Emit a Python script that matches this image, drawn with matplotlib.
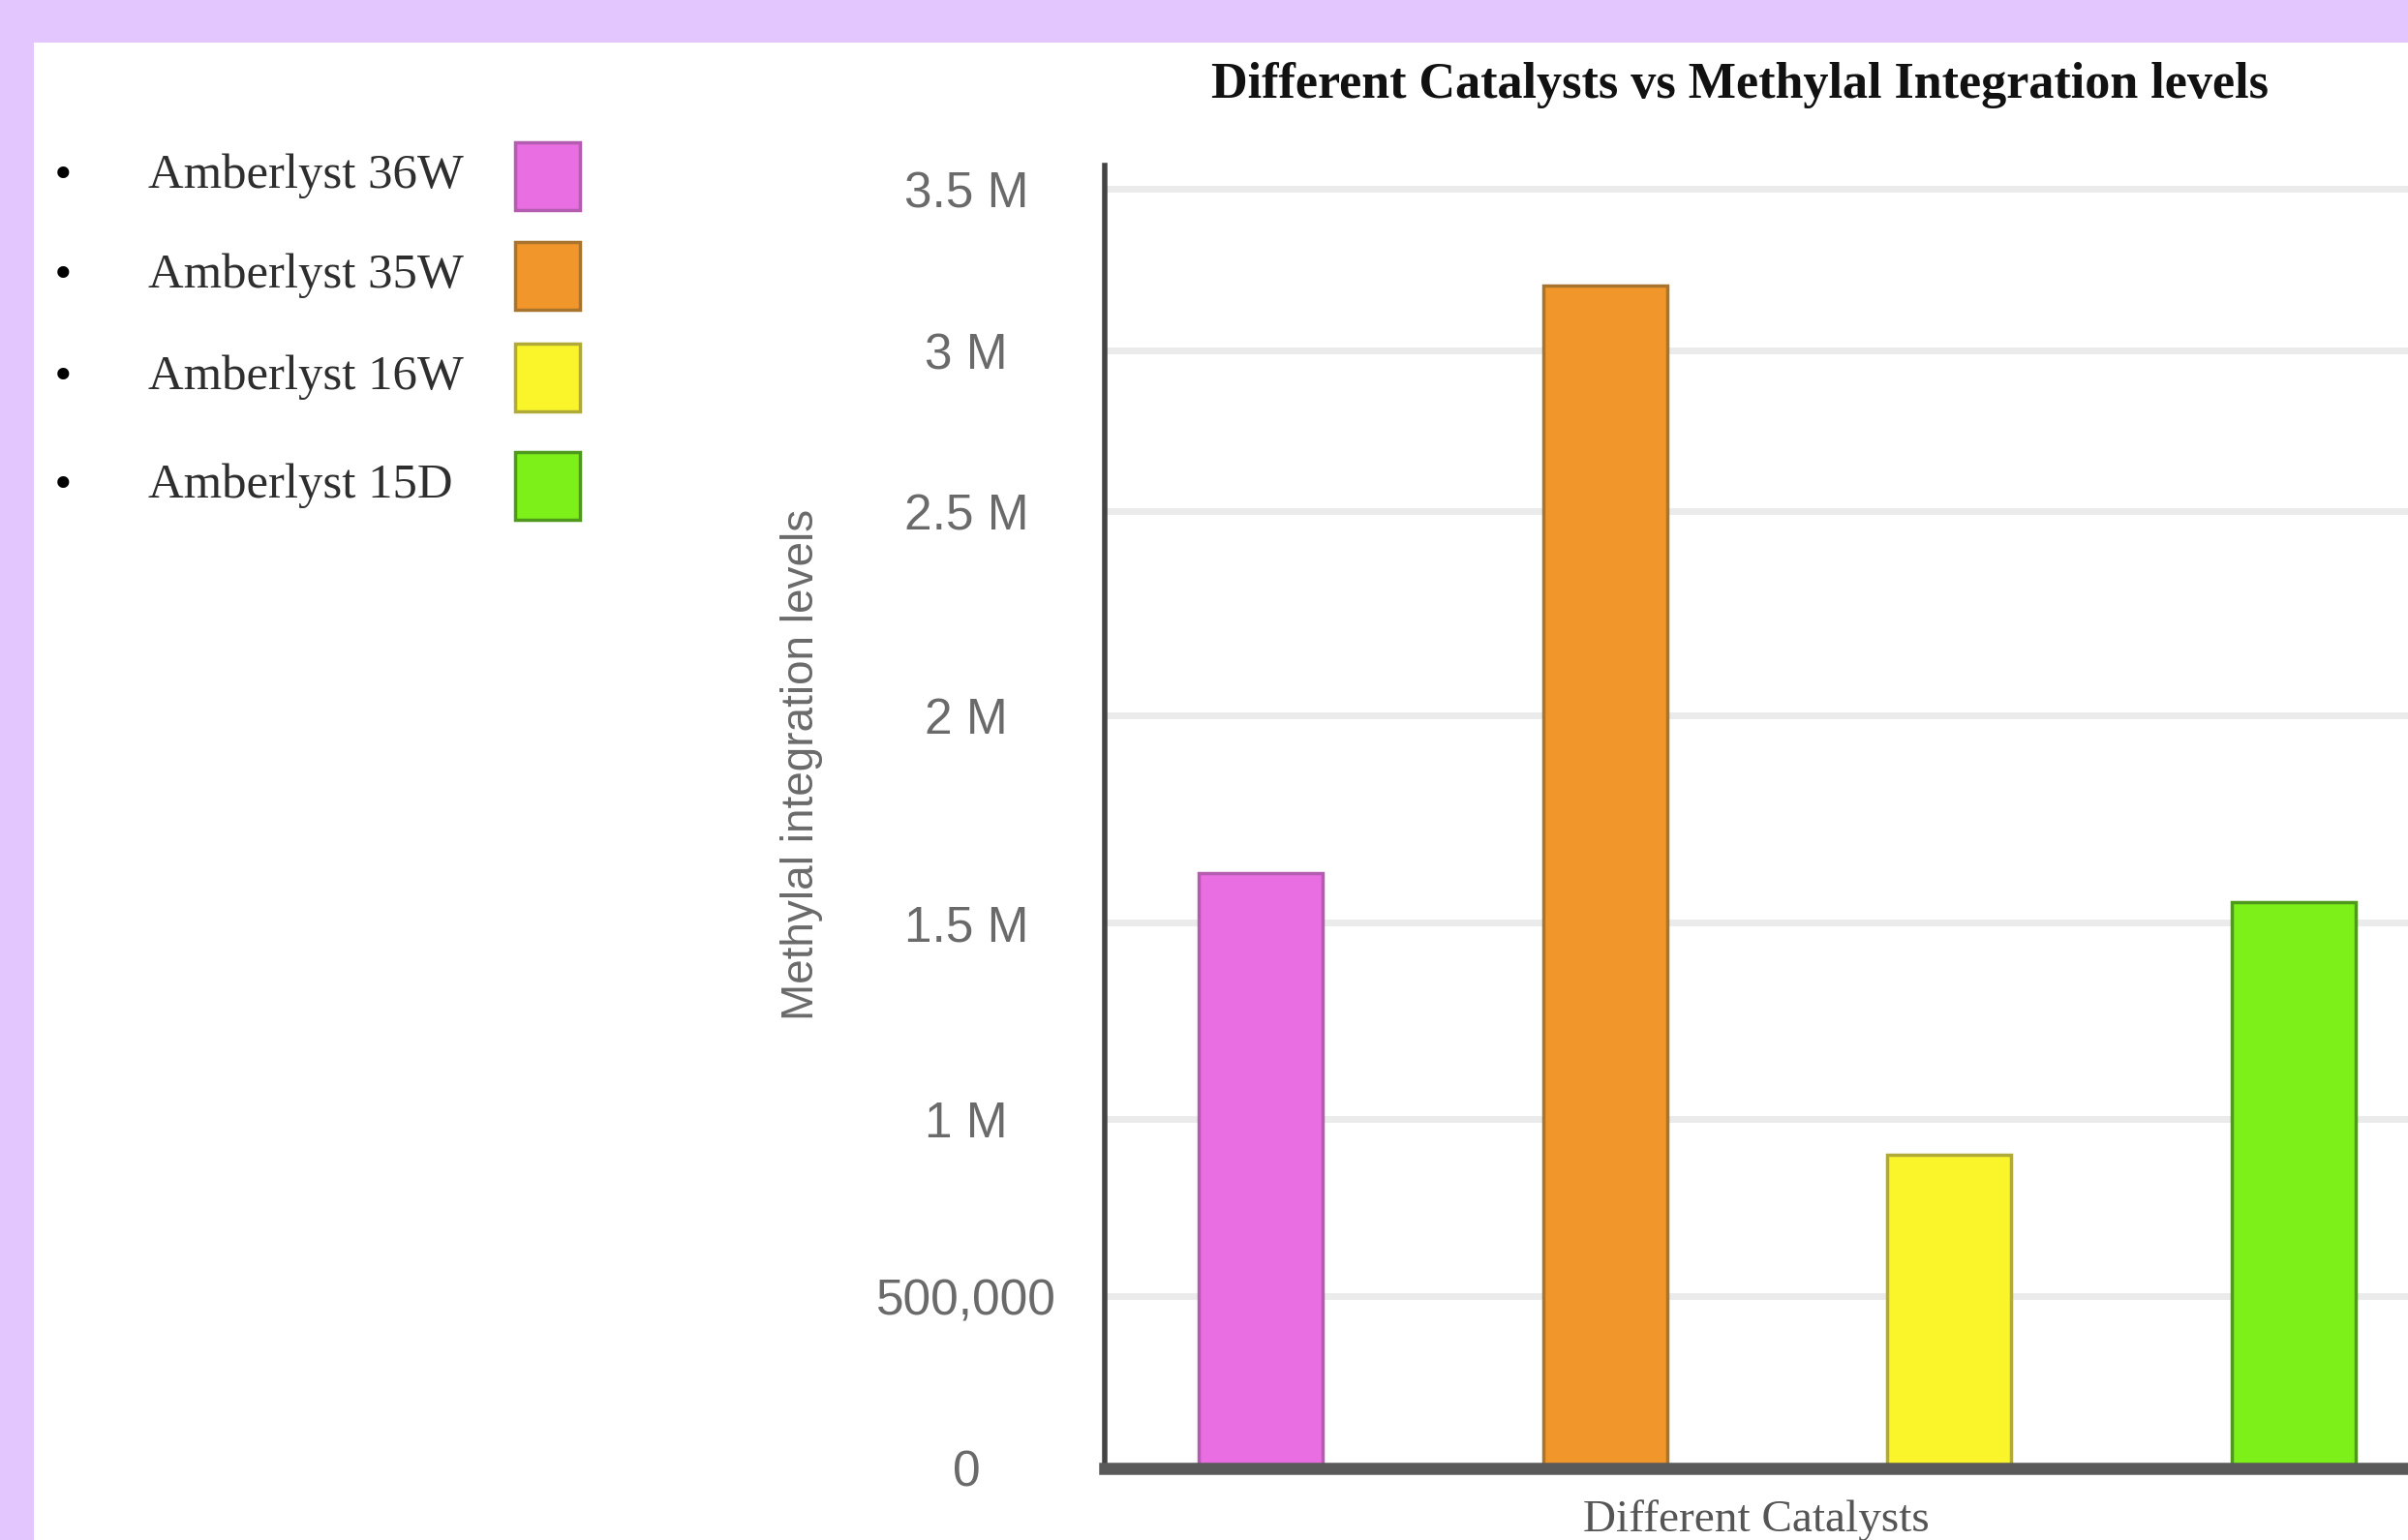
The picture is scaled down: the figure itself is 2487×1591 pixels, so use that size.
import numpy as np
import matplotlib
matplotlib.use('Agg')
import matplotlib.pyplot as plt
from matplotlib.patches import Rectangle

# Data
catalysts = ['Amberlyst 36W', 'Amberlyst 35W', 'Amberlyst 16W', 'Amberlyst 15D']
levels = [1.62e6, 3.20e6, 0.90e6, 1.55e6]
fill_colors = ['#e86ee1', '#f0962a', '#faf52a', '#7df019']
edge_colors = ['#b45cb0', '#a8742e', '#b0aa38', '#4f9a1c']

ytick_vals = [0, 0.5e6, 1e6, 1.5e6, 2e6, 2.5e6, 3e6, 3.5e6]
ytick_labels = ['0', '500,000', '1 M', '1.5 M', '2 M', '2.5 M', '3 M', '3.5 M']

# the picture's value axis is unevenly stretched; follow its gridline spacing
scale_vals = [0, 0.5e6, 1e6, 1.5e6, 2e6, 2.5e6, 3e6, 3.5e6, 4e6]
scale_pos = [0, 178, 361, 564, 778, 989, 1155, 1322, 1489]


def fwd(v):
    return np.interp(v, scale_vals, scale_pos)


def inv(p):
    return np.interp(p, scale_pos, scale_vals)


W, H = 2487, 1591
fig = plt.figure(figsize=(W / 100, H / 100), dpi=100)
fig.patch.set_facecolor('#e2c6fd')

# white panel (behind the axes)
fig.patches.append(Rectangle((35 / W, 0), 1, (H - 44) / H, transform=fig.transFigure,
                             facecolor='white', edgecolor='none', zorder=-1))

ax = fig.add_axes([1141 / W, (H - 1517) / H, 1 - 1141 / W, (1517 - 171) / H])
ax.set_facecolor('none')
ax.set_yscale('function', functions=(fwd, inv))

x = np.arange(len(catalysts))
ax.bar(x, levels, width=0.36, color=fill_colors, edgecolor=edge_colors, linewidth=2.5, zorder=2)

ax.set_xlim(-0.453, 3.332)
ax.set_ylim(0, 3.572e6)
ax.set_yticks(ytick_vals)
ax.set_yticklabels(ytick_labels, fontfamily='Liberation Sans', fontsize=37, color='#6a6a6a')
for lbl in ax.get_yticklabels():
    lbl.set_ha('center')
ax.tick_params(axis='y', length=0, pad=103)
ax.set_xticks([])

ax.yaxis.grid(True, color='#ebebeb', linewidth=5)
ax.set_axisbelow(True)

for side in ['top', 'right']:
    ax.spines[side].set_visible(False)
ax.spines['left'].set_color('#444444')
ax.spines['left'].set_linewidth(4)
ax.spines['bottom'].set_color('#5a5a5a')
ax.spines['bottom'].set_linewidth(9)
ax.spines['bottom'].set_zorder(3)

ax.set_ylabel('Methylal integration levels', fontfamily='Liberation Sans', fontsize=33, color='#6a6a6a')
ax.yaxis.set_label_coords(-0.216, 0.54)
ax.set_xlabel('Different Catalysts', fontfamily='Liberation Serif', fontsize=34, color='#555555')
ax.xaxis.set_label_coords(0.5, -0.024)

fig.text(1797 / W, 1 - 88 / H, 'Different Catalysts vs Methylal Integration levels',
         fontfamily='Liberation Serif', fontweight='bold', fontsize=37.5, color='#111111',
         ha='center', va='center')

# legend: bullet, name, colour swatch
row_y = [182, 285, 390, 502]
for name, fc, ec, ry in zip(catalysts, fill_colors, edge_colors, row_y):
    fig.text(65 / W, 1 - ry / H, '\u2022', fontfamily='DejaVu Sans', fontsize=30,
             color='black', ha='center', va='center')
    fig.text(153 / W, 1 - ry / H, name, fontfamily='Liberation Serif', fontsize=36.5,
             color='#2e2e2e', ha='left', va='center')
    fig.patches.append(Rectangle((532 / W, 1 - (ry + 35) / H), 67 / W, 70 / H,
                                 transform=fig.transFigure, facecolor=fc, edgecolor=ec,
                                 linewidth=2.5, zorder=1))

fig.savefig('out.png', dpi=100)
